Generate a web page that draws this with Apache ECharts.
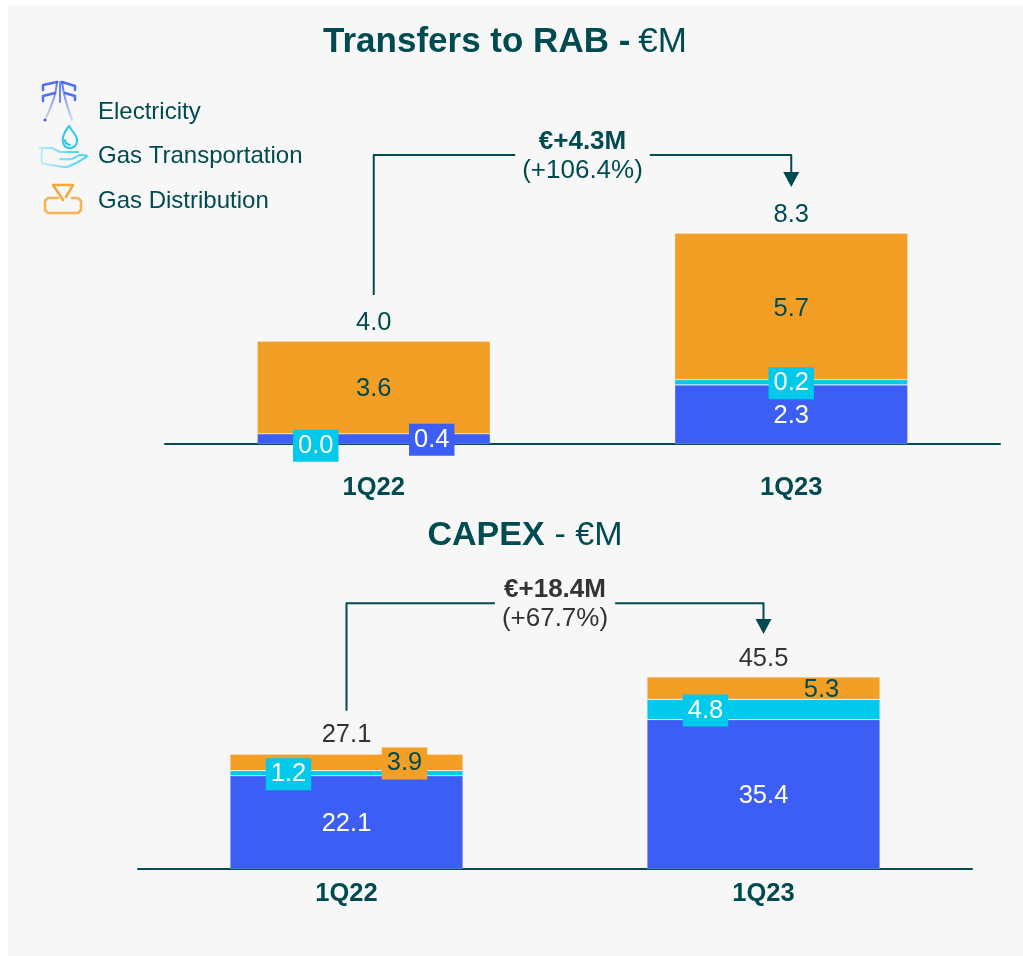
<!DOCTYPE html>
<html><head><meta charset="utf-8">
<style>html,body{margin:0;padding:0;background:#fff}
#chart{width:1023px;height:956px;background:linear-gradient(#fff,#fff) 0 0/100% 5px no-repeat,linear-gradient(to right,#fff 8px,#f7f7f7 8px)}</style>
<script src="https://cdn.jsdelivr.net/npm/echarts@6/dist/echarts.min.js"></script>
</head><body><div id="chart"></div>
<script>
const categories = ['1Q22', '1Q23'];
const seriesNames = ['Electricity', 'Gas Transportation', 'Gas Distribution'];
const rabElectricity = [0.4, 2.3];
const rabGasTransport = [0.0, 0.2];
const rabGasDistribution = [3.6, 5.7];
const rabTotals = [4.0, 8.3];
const capexElectricity = [22.1, 35.4];
const capexGasTransport = [1.2, 4.8];
const capexGasDistribution = [3.9, 5.3];
const capexTotals = [27.1, 45.5];
const rabBracket = {from: 5.8, level: 11.25, tip: 10.0, bold: '€+4.3M', normal: '(+106.4%)'};
const capexBracket = {from: 37.5, level: 63, tip: 55.7, bold: '€+18.4M', normal: '(+67.7%)'};

const FONT = '"Liberation Sans", Arial, sans-serif';
const TEAL = '#004b50', DARK = '#333333', BG = '#f7f7f7';
const BLUE = '#3d5ef5', CYAN = '#00c9ec', ORANGE = '#f39e24';
const G = echarts.graphic;

function box(color, bg) {
  return {show: true, position: 'inside', color, fontFamily: FONT, fontSize: 25.5, lineHeight: 22,
    backgroundColor: bg, padding: [10, 5, 0, 5], formatter: p => p.value.toFixed(1)};
}
function items(values, styles) {
  return values.map((v, i) => ({value: v, label: styles[i]}));
}
function bars(name, axis, values, color, styles) {
  return {type: 'bar', name, stack: 's' + axis, xAxisIndex: axis, yAxisIndex: axis, barWidth: 233,
    itemStyle: {color, borderColor: 'rgba(255,255,255,0.35)', borderWidth: 0.6},
    label: box('#fff', 'transparent'), data: items(values, styles), emphasis: {disabled: true}};
}
function totals(axis, values, color, distances) {
  return {type: 'line', name: 'Total', xAxisIndex: axis, yAxisIndex: axis,
    data: values.map((v, i) => ({value: v, label: {distance: distances[i]}})),
    symbol: 'circle', symbolSize: 1, itemStyle: {color: 'transparent'}, lineStyle: {width: 0, color: 'transparent'}, z: 5, silent: true,
    label: {show: true, position: 'top', color, fontFamily: FONT, fontSize: 25.5,
      formatter: p => p.value.toFixed(1)}};
}
function bracket(axis, b, color, boldColor) {
  return {type: 'custom', name: 'Change', xAxisIndex: axis, yAxisIndex: axis, silent: true, z: 6, clip: false,
    data: [[0, 1]],
    renderItem(params, api) {
      const a = api.coord([0, b.from]), c = api.coord([0, b.level]), d = api.coord([1, b.level]), t = api.coord([1, b.tip]);
      const mid = (c[0] + d[0]) / 2;
      return {type: 'group', children: [
        {type: 'polyline', shape: {points: [a, c, d, [d[0], t[1] - 12]]}, style: {stroke: TEAL, lineWidth: 2, fill: null, lineJoin: 'round'}},
        {type: 'polygon', shape: {points: [[t[0] - 8, t[1] - 15], [t[0] + 8, t[1] - 15], t]}, style: {fill: TEAL}},
        {type: 'text', x: mid, y: c[1] + 1, style: {
          text: '{b|' + b.bold + '}\n{n|' + b.normal + '}', align: 'center', verticalAlign: 'middle',
          backgroundColor: BG, padding: [0, 7],
          rich: {b: {font: 'bold 26px ' + FONT, fill: boldColor, lineHeight: 29, align: 'center'},
                 n: {font: '26px ' + FONT, fill: color, lineHeight: 29, align: 'center'}}}}
      ]};
    }};
}
function xAxis(i, margin) {
  return {type: 'category', gridIndex: i, data: categories, axisTick: {show: false},
    axisLine: {lineStyle: {color: TEAL, width: 2}},
    axisLabel: {color: TEAL, fontFamily: FONT, fontSize: 25.5, fontWeight: 'bold', margin}};
}
function yAxis(i, max) {
  return {type: 'value', gridIndex: i, min: 0, max, show: false, splitLine: {show: false}};
}
const off = (st, x, y, bg) => Object.assign({}, st, {offset: [x, y]}, bg ? {backgroundColor: bg} : {});
const dk = off(box(TEAL, 'transparent'), 0, 2), w = off(box('#fff', 'transparent'), 0, 2);
const grad = (x1, y1, x2, y2, a, b) => new G.LinearGradient(x1, y1, x2, y2, [{offset: 0, color: a}, {offset: 1, color: b}]);
function line(points, stroke, smooth, lineWidth) {
  return {type: 'polyline', silent: true, shape: {points, smooth: smooth || 0},
    style: {fill: null, stroke, lineWidth: lineWidth || 2, lineCap: 'round', lineJoin: 'round', opacity: 0.9}};
}
const towerFade = grad(0, 0, 0, 1, '#3d5ef5', 'rgba(61,94,245,0.2)');
const handFade = grad(0, 0, 1, 0, 'rgba(0,201,236,0.25)', 'rgba(0,201,236,0.85)');
const richOf = (size, gap) => ({b: {fontFamily: FONT, fontSize: size, fontWeight: 'bold', color: TEAL},
                   n: {fontFamily: FONT, fontSize: size, fontWeight: 'normal', color: TEAL, padding: [0, 0, 0, gap]}});
const option = {
  animation: false,
  backgroundColor: 'transparent',
  title: [
    {text: '{b|Transfers to RAB -} {n|€M}', left: 500, top: 20, textAlign: 'center', textStyle: {rich: richOf(35, 3)}},
    {text: '{b|CAPEX} {n|- €M}', left: 520, top: 514, textAlign: 'center', textStyle: {rich: richOf(34, 5)}}
  ],
  legend: {left: 42, top: 95, orient: 'vertical', itemWidth: 42, itemHeight: 20, itemGap: 20.5, selectedMode: false,
    data: seriesNames.map(name => ({name, icon: 'rect', itemStyle: {opacity: 0}})),
    textStyle: {color: TEAL, fontFamily: FONT, fontSize: 24, padding: [0, 0, 0, 3]}},
  grid: [
    {left: 165, width: 835, top: 135.6, height: 308.4},
    {left: 138, width: 834, top: 573.6, height: 295.4}
  ],
  xAxis: [xAxis(0, 31), xAxis(1, 12)],
  yAxis: [yAxis(0, 12), yAxis(1, 70)],
  graphic: [
    line([[43,90],[43,85],[57,82]], '#3d5ef5', 0, 2.5),
    line([[62,82],[75,86],[75,90]], '#3d5ef5', 0, 2.5),
    line([[43,101],[43,96],[55,93]], '#3d5ef5', 0, 2.5),
    line([[65,93],[75,96],[75,100]], '#3d5ef5', 0, 2.5),
    line([[57,82],[54,98],[45,120]], towerFade, 0.4),
    line([[62,82],[65,98],[72,120]], towerFade, 0.4),
    line([[60,82],[60,102]], '#5a78f5'),
    {type: 'circle', silent: true, shape: {cx: 45, cy: 120, r: 1.5}, style: {fill: '#3d5ef5'}},
    line([[69,126],[63,137],[64,145],[69,148],[75,146],[77,139],[73,132],[69,126]], '#12c3e8', 0.5),
    line([[65,140],[66,143],[70,145]], '#12c3e8', 0.5),
    line([[40,148],[52,148],[60,152],[78,152]], handFade),
    line([[42,150],[42,163],[52,165],[66,167],[76,163],[87,156],[80,155],[72,159],[60,159]], handFade, 0.2),
    line([[63,200],[53,185],[73,185],[66,197]], '#f39e24', 0, 2.5),
    line([[58,198],[48,198],[45,201],[45,210],[48,213],[78,213],[81,210],[81,201],[78,198],[72,198]], 'rgba(243,158,36,0.85)', 0, 2.5)
  ],
  series: [
    bars(seriesNames[0], 0, rabElectricity, BLUE, [off(w, 58, 1, BLUE), w]),
    bars(seriesNames[1], 0, rabGasTransport, CYAN, [off(w, -58, 12, CYAN), off(w, 0, 1, CYAN)]),
    bars(seriesNames[2], 0, rabGasDistribution, ORANGE, [dk, dk]),
    totals(0, rabTotals, TEAL, [5, 2]),
    bracket(0, rabBracket, TEAL, TEAL),
    bars(seriesNames[0], 1, capexElectricity, BLUE, [w, w]),
    bars(seriesNames[1], 1, capexGasTransport, CYAN, [off(w, -58, 1, CYAN), off(w, -58, 1, CYAN)]),
    bars(seriesNames[2], 1, capexGasDistribution, ORANGE, [off(dk, 58, 1, ORANGE), off(dk, 58, 2)]),
    totals(1, capexTotals, DARK, [6, 5]),
    bracket(1, capexBracket, DARK, DARK)
  ]
};
echarts.init(document.getElementById('chart'), null, {renderer: 'canvas'}).setOption(option);
</script></body></html>
